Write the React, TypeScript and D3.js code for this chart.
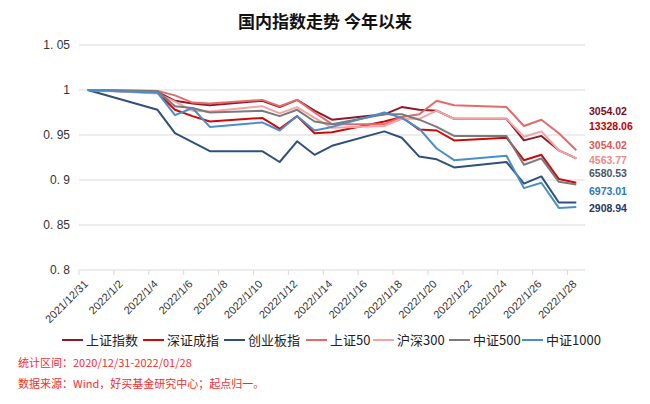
import { useEffect, useRef } from 'react';
import * as d3 from 'd3';

// 交易日
const tradeDates = [
  '2021-12-31', '2022-01-04', '2022-01-05', '2022-01-06', '2022-01-07',
  '2022-01-10', '2022-01-11', '2022-01-12', '2022-01-13', '2022-01-14',
  '2022-01-17', '2022-01-18', '2022-01-19', '2022-01-20', '2022-01-21',
  '2022-01-24', '2022-01-25', '2022-01-26', '2022-01-27', '2022-01-28',
];

// 起点归一后的走势
const shIndex = [1, 0.998, 0.988, 0.985, 0.983, 0.988, 0.981, 0.989, 0.977, 0.967, 0.973, 0.981, 0.978, 0.977, 0.968, 0.968, 0.944, 0.949, 0.933, 0.924];
const szIndex = [1, 0.997, 0.978, 0.971, 0.965, 0.969, 0.957, 0.971, 0.952, 0.953, 0.965, 0.970, 0.956, 0.955, 0.944, 0.947, 0.922, 0.928, 0.901, 0.897];
const cybIndex = [1, 0.978, 0.952, 0.942, 0.932, 0.932, 0.920, 0.943, 0.928, 0.938, 0.954, 0.947, 0.926, 0.923, 0.914, 0.920, 0.896, 0.904, 0.875, 0.875];
const sz50Index = [1, 0.999, 0.994, 0.986, 0.985, 0.989, 0.982, 0.989, 0.975, 0.962, 0.962, 0.970, 0.973, 0.988, 0.983, 0.981, 0.960, 0.967, 0.952, 0.933];
const hs300Index = [1, 0.996, 0.987, 0.977, 0.976, 0.982, 0.974, 0.981, 0.969, 0.958, 0.960, 0.968, 0.968, 0.977, 0.968, 0.968, 0.948, 0.954, 0.933, 0.924];
const zz500Index = [1, 0.999, 0.982, 0.980, 0.975, 0.977, 0.971, 0.978, 0.965, 0.962, 0.973, 0.973, 0.967, 0.959, 0.949, 0.949, 0.917, 0.924, 0.898, 0.895];
const zz1000Index = [1, 0.997, 0.972, 0.980, 0.959, 0.964, 0.955, 0.971, 0.955, 0.959, 0.975, 0.969, 0.957, 0.935, 0.922, 0.927, 0.891, 0.897, 0.869, 0.870];

const seriesNames = ['上证指数', '深证成指', '创业板指', '上证50', '沪深300', '中证500', '中证1000'];
const seriesValues = [shIndex, szIndex, cybIndex, sz50Index, hs300Index, zz500Index, zz1000Index];
// 末日收盘点位标注（按原图）
const closeLabels = ['3054.02', '13328.06', '2908.94', '3054.02', '4563.77', '6580.53', '6973.01'];

const yTicks = [0.8, 0.85, 0.9, 0.95, 1, 1.05];

const lineColors = ['#8c1a2c', '#cc0a0a', '#30507a', '#e66a6a', '#f3a4a4', '#7a7a7a', '#4a8ec8'];
const labelColors = ['#7a0a1e', '#c00000', '#1f3864', '#e05858', '#f08a8a', '#4a5566', '#2e78bb'];
const labelRows = [111, 126, 208, 145, 160, 173, 191];

export default function App() {
  const svgRef = useRef<SVGSVGElement>(null);

  useEffect(() => {
    if (!svgRef.current) return;
    const svg = d3.select(svgRef.current);
    svg.selectAll('*').remove();

    const parse = d3.utcParse('%Y-%m-%d');
    const dates = tradeDates.map((d) => parse(d) as Date);
    const halfDay = 12 * 3600 * 1000;
    const start = parse('2021-12-31') as Date;
    const end = parse('2022-01-29') as Date;

    const x = d3.scaleUtc().domain([start, end]).range([79, 585]);
    const y = d3.scaleLinear().domain([0.8, 1.05]).range([270, 45]);

    svg.append('rect').attr('width', 650).attr('height', 404).attr('fill', '#fff');

    // Title
    svg.append('text')
      .attr('x', 325).attr('y', 28)
      .attr('text-anchor', 'middle')
      .attr('font-family', '"Noto Sans CJK SC", sans-serif')
      .attr('font-size', '17px')
      .attr('font-weight', 700)
      .attr('fill', '#111')
      .text('国内指数走势 今年以来');

    // Grid
    svg.append('g')
      .selectAll('line')
      .data(yTicks.filter((t) => t > 0.8))
      .join('line')
      .attr('x1', 79).attr('x2', 585)
      .attr('y1', (d) => y(d)).attr('y2', (d) => y(d))
      .attr('stroke', '#d9d9d9')
      .attr('stroke-width', 1);

    // Y labels
    svg.append('g')
      .selectAll('text')
      .data(yTicks)
      .join('text')
      .attr('x', 70)
      .attr('y', (d) => y(d))
      .attr('dy', '0.35em')
      .attr('text-anchor', 'end')
      .attr('font-family', '"Liberation Sans", Arial, sans-serif')
      .attr('font-size', '12px')
      .attr('fill', '#333')
      .text((d) => String(d).replace('.', '. '));

    // X axis, a tick every two days from the start
    const xTicks = d3.utcDay.range(start, end, 2);
    const ax = svg.append('g');
    ax.append('line')
      .attr('x1', 79).attr('x2', 585)
      .attr('y1', y(0.8)).attr('y2', y(0.8))
      .attr('stroke', '#d9d9d9');
    ax.selectAll('.tick')
      .data(xTicks)
      .join('line')
      .attr('class', 'tick')
      .attr('x1', (d) => x(d)).attr('x2', (d) => x(d))
      .attr('y1', y(0.8)).attr('y2', y(0.8) + 5)
      .attr('stroke', '#d9d9d9');
    ax.selectAll('.tlabel')
      .data(xTicks)
      .join('text')
      .attr('class', 'tlabel')
      .attr('transform', (d) => `translate(${x(d) + 7},${y(0.8) + 12}) rotate(-45)`)
      .attr('text-anchor', 'end')
      .attr('dy', '0.35em')
      .attr('font-family', '"Liberation Sans", Arial, sans-serif')
      .attr('font-size', '11px')
      .attr('fill', '#333')
      .text((d) => `${d.getUTCFullYear()}/${d.getUTCMonth() + 1}/${d.getUTCDate()}`);

    // Lines
    const line = d3.line<number>()
      .x((_, i) => x(new Date(dates[i].getTime() + halfDay)))
      .y((v) => y(v));

    svg.append('g')
      .selectAll('path')
      .data(seriesValues)
      .join('path')
      .attr('fill', 'none')
      .attr('stroke', (_, i) => lineColors[i])
      .attr('stroke-width', 2)
      .attr('stroke-linejoin', 'round')
      .attr('d', (d) => line(d));

    // End labels
    svg.append('g')
      .selectAll('text')
      .data(closeLabels)
      .join('text')
      .attr('x', 589)
      .attr('y', (_, i) => labelRows[i])
      .attr('dy', '0.35em')
      .attr('font-family', '"Liberation Sans", Arial, sans-serif')
      .attr('font-size', '10.5px')
      .attr('font-weight', 700)
      .attr('fill', (_, i) => labelColors[i])
      .text((d) => d);

    // Legend
    const legendX = [62, 143, 224, 306, 373, 449, 522];
    const lg = svg.append('g');
    seriesNames.forEach((name, i) => {
      lg.append('line')
        .attr('x1', legendX[i]).attr('x2', legendX[i] + 21)
        .attr('y1', 340).attr('y2', 340)
        .attr('stroke', lineColors[i])
        .attr('stroke-width', 2);
      lg.append('text')
        .attr('x', legendX[i] + 24)
        .attr('y', 340)
        .attr('dy', '0.35em')
        .attr('font-family', '"Noto Sans CJK SC", sans-serif')
        .attr('font-size', '13px')
        .attr('fill', '#222')
        .text(name);
    });

    // Footer
    const footer = ['统计区间：2020/12/31-2022/01/28', '数据来源：Wind，好买基金研究中心；起点归一。'];
    svg.append('g')
      .selectAll('text')
      .data(footer)
      .join('text')
      .attr('x', 18)
      .attr('y', (_, i) => 363 + i * 21)
      .attr('dy', '0.35em')
      .attr('font-family', '"Noto Sans CJK SC", sans-serif')
      .attr('font-size', '11px')
      .attr('fill', '#f0302f')
      .text((d) => d);
  }, []);

  return (
    <div style={{ position: 'absolute', left: 0, top: 0 }}>
      <svg ref={svgRef} width={650} height={404} style={{ display: 'block' }} />
    </div>
  );
}
